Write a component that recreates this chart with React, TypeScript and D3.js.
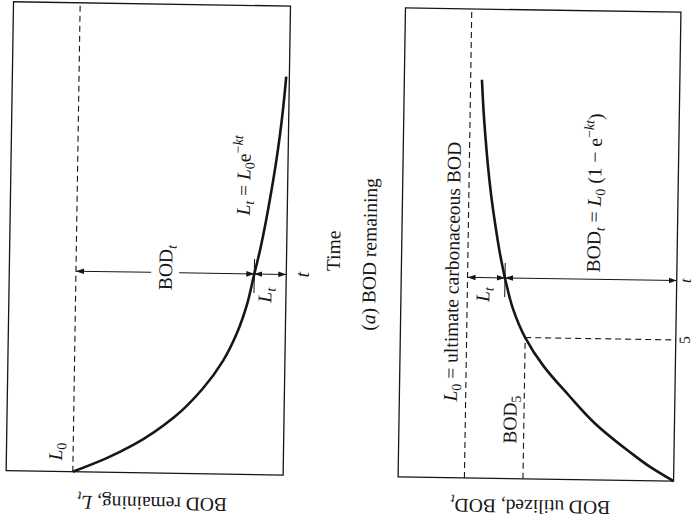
import React from 'react';
import * as d3 from 'd3';

// ---- data (L0 = 1, time in days) ----
const daysA = [0, 0.5, 1, 2, 3, 4, 5, 6, 7, 8, 9, 10, 11, 12, 13, 14.1];
const bodRemaining = [1.0, 0.84, 0.71, 0.52, 0.39, 0.295, 0.23, 0.185, 0.155, 0.125, 0.1, 0.078, 0.058, 0.041, 0.027, 0.015];
const daysB = [0, 0.5, 1, 2, 3, 4, 5, 6, 7, 8, 9, 10, 11, 12, 13, 14.1];
const bodUtilized = [0, 0.115, 0.21, 0.38, 0.51, 0.63, 0.72, 0.78, 0.818, 0.848, 0.872, 0.893, 0.91, 0.924, 0.936, 0.946];
const timeDomain = [0, 16.6];
const valueDomain = [0, 1.317];
const ultimateBOD = 1;
const tMark = 7.1;
const bod5Day = 5;
const tickLabelT = 't';
const tickLabel5 = '5';

const W = 693;
const H = 521;
const INK = '#161616';
const FONT = '"Liberation Serif", "DejaVu Serif", serif';
const FS = 19.5;

export default function App() {
  const x = d3.scaleLinear().domain(timeDomain).range([45, 514]);
  const yA = d3.scaleLinear().domain(valueDomain).range([286.5, 9.5]);
  const yB = d3.scaleLinear().domain(valueDomain).range([677, 401.5]);

  const lineA = d3.line<number>().x((_, i) => x(daysA[i])).y((d) => yA(d)).curve(d3.curveMonotoneX);
  const lineB = d3.line<number>().x((_, i) => x(daysB[i])).y((d) => yB(d)).curve(d3.curveMonotoneX);

  const remAt = d3.scaleLinear().domain(daysA).range(bodRemaining);
  const utilAt = d3.scaleLinear().domain(daysB).range(bodUtilized);
  const Lt = remAt(tMark);
  const Ut = utilAt(tMark);
  const U5 = utilAt(bod5Day);

  const xt = x(tMark);
  const x5 = x(bod5Day);
  const [u0, u1] = x.range();

  // gap in BOD_t dimension line of panel (a) for its label
  const midA = (yA(ultimateBOD) + yA(Lt)) / 2;
  const gap0 = midA - 14;
  const gap1 = midA + 14;

  const dash = '6,4';

  return (
    <svg width={W} height={H} viewBox={`0 0 ${W} ${H}`} style={{ position: 'absolute', left: 0, top: 0, background: '#fff' }}
      fontFamily={FONT} fontSize={FS} fill={INK}>
      <defs>
        <marker id="arr" viewBox="0 -3 8 6" refX="8" refY="0" markerWidth="8" markerHeight="6"
          markerUnits="userSpaceOnUse" orient="auto-start-reverse">
          <path d="M0,-2.8L8,0L0,2.8Z" fill={INK} />
        </marker>
      </defs>
      <rect x={0} y={0} width={W} height={H} fill="#fff" />
      <g transform={`rotate(0.9, 346, 260) translate(0, ${H}) rotate(-90)`}>
        {/* ---------- panel (a) ---------- */}
        <rect x={u0} y={yA(valueDomain[1])} width={u1 - u0} height={yA(0) - yA(valueDomain[1])}
          fill="none" stroke={INK} strokeWidth={1.3} />
        <line x1={u0} x2={u1} y1={yA(ultimateBOD)} y2={yA(ultimateBOD)} stroke={INK} strokeWidth={1.1} strokeDasharray={dash} />
        <path d={lineA(bodRemaining) || ''} fill="none" stroke={INK} strokeWidth={2.6} />
        {/* BOD_t dimension */}
        <line x1={xt} x2={xt} y1={yA(ultimateBOD)} y2={gap0} stroke={INK} strokeWidth={1} markerStart="url(#arr)" />
        <line x1={xt} x2={xt} y1={gap1} y2={yA(Lt)} stroke={INK} strokeWidth={1} markerEnd="url(#arr)" />
        {/* L_t dimension */}
        <line x1={xt} x2={xt} y1={yA(Lt)} y2={yA(0)} stroke={INK} strokeWidth={1} markerStart="url(#arr)" markerEnd="url(#arr)" />
        <line x1={xt - 19} x2={xt + 15} y1={yA(Lt)} y2={yA(Lt)} stroke={INK} strokeWidth={1} />

        <text x={u0 + 20} y={yA(ultimateBOD) - 11} textAnchor="middle">
          <tspan fontStyle="italic">L</tspan><tspan fontSize={FS * 0.72} dy={4}>0</tspan>
        </text>
        <text x={344} y={249} textAnchor="middle">
          <tspan fontStyle="italic">L</tspan><tspan fontStyle="italic" fontSize={FS * 0.72} dy={4}>t</tspan>
          <tspan dy={-4}> = </tspan><tspan fontStyle="italic">L</tspan>
          <tspan fontSize={FS * 0.72} dy={4}>0</tspan><tspan dy={-4}>e</tspan>
          <tspan fontSize={FS * 0.72} dy={-8}>−</tspan><tspan fontSize={FS * 0.72} fontStyle="italic">kt</tspan>
        </text>
        <text x={xt + 5} y={midA + 7} textAnchor="middle">
          BOD<tspan fontStyle="italic" fontSize={FS * 0.72} dy={4}>t</tspan>
        </text>
        <text x={xt - 21} y={272} textAnchor="middle">
          <tspan fontStyle="italic">L</tspan><tspan fontStyle="italic" fontSize={FS * 0.72} dy={4}>t</tspan>
        </text>
        <text x={xt} y={yA(0) + 22.5} textAnchor="middle" fontStyle="italic">{tickLabelT}</text>
        <text x={270} y={340} textAnchor="middle">Time</text>
        <text x={267} y={376} textAnchor="middle">
          (<tspan fontStyle="italic">a</tspan>) BOD remaining
        </text>
        <text transform={`translate(21, ${(yA(0) + yA(valueDomain[1])) / 2 + 8}) rotate(-90)`} textAnchor="middle">
          BOD remaining, <tspan fontStyle="italic">L</tspan><tspan fontStyle="italic" fontSize={FS * 0.72} dy={4}>t</tspan>
        </text>

        {/* ---------- panel (b) ---------- */}
        <rect x={u0} y={yB(valueDomain[1])} width={u1 - u0} height={yB(0) - yB(valueDomain[1])}
          fill="none" stroke={INK} strokeWidth={1.3} />
        <line x1={u0} x2={u1} y1={yB(ultimateBOD)} y2={yB(ultimateBOD)} stroke={INK} strokeWidth={1.1} strokeDasharray={dash} />
        <line x1={u0} x2={x5} y1={yB(U5)} y2={yB(U5)} stroke={INK} strokeWidth={1.1} strokeDasharray={dash} />
        <line x1={x5} x2={x5} y1={yB(U5)} y2={yB(0)} stroke={INK} strokeWidth={1.1} strokeDasharray={dash} />
        <path d={lineB(bodUtilized) || ''} fill="none" stroke={INK} strokeWidth={2.6} />
        <line x1={xt} x2={xt} y1={yB(ultimateBOD)} y2={yB(Ut)} stroke={INK} strokeWidth={1} markerStart="url(#arr)" markerEnd="url(#arr)" />
        <line x1={xt} x2={xt} y1={yB(Ut)} y2={yB(0)} stroke={INK} strokeWidth={1} markerStart="url(#arr)" markerEnd="url(#arr)" />
        <line x1={xt - 19} x2={xt + 15} y1={yB(Ut)} y2={yB(Ut)} stroke={INK} strokeWidth={1} />

        <text x={251} y={459} textAnchor="middle">
          <tspan fontStyle="italic">L</tspan><tspan fontSize={FS * 0.72} dy={4}>0</tspan>
          <tspan dy={-4}> = ultimate carbonaceous BOD</tspan>
        </text>
        <text x={xt - 17} y={490} textAnchor="middle">
          <tspan fontStyle="italic">L</tspan><tspan fontStyle="italic" fontSize={FS * 0.72} dy={4}>t</tspan>
        </text>
        <text x={xt + 7} y={600} textAnchor="start">
          BOD<tspan fontStyle="italic" fontSize={FS * 0.72} dy={4}>t</tspan>
          <tspan dy={-4}> = </tspan><tspan fontStyle="italic">L</tspan>
          <tspan fontSize={FS * 0.72} dy={4}>0</tspan><tspan dy={-4}> (1 − e</tspan>
          <tspan fontSize={FS * 0.72} dy={-8}>−</tspan><tspan fontSize={FS * 0.72} fontStyle="italic">kt</tspan>
          <tspan dy={8}>)</tspan>
        </text>
        <text x={104} y={519} textAnchor="middle">
          BOD<tspan fontSize={FS * 0.72} dy={4}>5</tspan>
        </text>
        <text x={x5} y={yB(0) + 14} textAnchor="middle" fontSize={FS * 0.8}>{tickLabel5}</text>
        <text x={xt} y={yB(0) + 14} textAnchor="middle" fontSize={FS * 0.8} fontStyle="italic">{tickLabelT}</text>
        <text transform={`translate(24, ${(yB(0) + yB(valueDomain[1])) / 2 - 5}) rotate(-90)`} textAnchor="middle">
          BOD utilized, BOD<tspan fontStyle="italic" fontSize={FS * 0.72} dy={4}>t</tspan>
        </text>
      </g>
    </svg>
  );
}
